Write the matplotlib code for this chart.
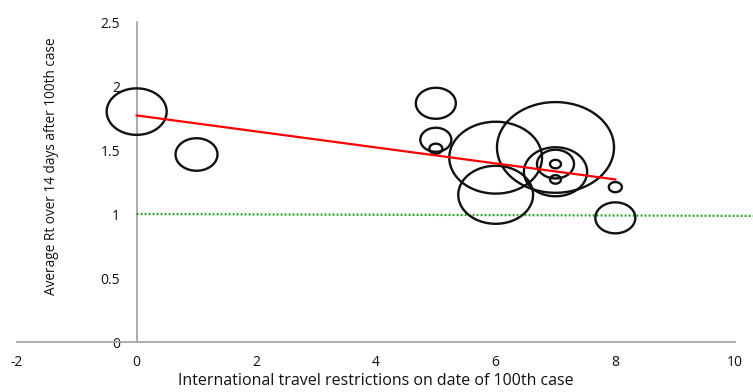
import numpy as np
import matplotlib.pyplot as plt
from matplotlib.path import Path

plt.rcParams['font.family'] = ['Open Sans', 'DejaVu Sans']
plt.rcParams['axes.unicode_minus'] = False

# travel restriction score, average Rt, bubble size
restrictions = [0, 1, 5, 5, 5, 6, 6, 7, 7, 7, 7, 7, 8, 8]
avg_rt = [1.80, 1.465, 1.865, 1.58, 1.51, 1.44, 1.15, 1.52, 1.33, 1.39, 1.39, 1.27, 1.21, 0.97]
bubble = [36, 17.6, 16, 9.6, 1.7, 86, 56, 137, 40, 13.7, 1.2, 1.2, 1.7, 16]

trend_x = [0, 8]
trend_y = [1.77, 1.27]

ref_x = [0, 10.3]
ref_y = [1.0, 0.985]

xticks = [-2, 0, 2, 4, 6, 8, 10]
yticks = [0, 0.5, 1, 1.5, 2, 2.5]
ytick_labels = ['0', '0.5', '1', '1.5', '2', '2.5']

# bubbles look squashed, use an elliptical marker
t = np.linspace(0, 2 * np.pi, 100)
ellipse = Path(np.column_stack([np.cos(t), 0.775 * np.sin(t)]), closed=True)

fig = plt.figure(figsize=(7.53, 3.92), dpi=100)
ax = fig.add_axes([17 / 753, 50 / 392, 718 / 753, 320 / 392])

diam_pt = np.sqrt(np.array(bubble)) * 10 * 0.72
ax.scatter(restrictions, avg_rt, s=diam_pt ** 2, marker=ellipse,
           facecolors='none', edgecolors='#111111', linewidths=1.7, zorder=3)

ax.plot(trend_x, trend_y, color='#ff0000', lw=1.6, zorder=4)
ax.plot(ref_x, ref_y, color='#1f9a1f', lw=1.6, ls=(0, (0.8, 1.0)), zorder=2,
        clip_on=False)

ax.set_xlim(-2, 10)
ax.set_ylim(0, 2.5)
ax.set_xticks(xticks)
ax.set_yticks(yticks)
ax.set_yticklabels(ytick_labels)

for s in ['top', 'right']:
    ax.spines[s].set_visible(False)
ax.spines['left'].set_position(('data', 0))
ax.spines['left'].set_color('#a6a6a6')
ax.spines['bottom'].set_color('#a6a6a6')
ax.spines['left'].set_linewidth(1.3)
ax.spines['bottom'].set_linewidth(1.3)
ax.spines['left'].set_zorder(1)

ax.tick_params(axis='y', length=0, pad=12, labelsize=10, labelcolor='#111111')
ax.tick_params(axis='x', length=0, pad=9, labelsize=10, labelcolor='#111111')

ax.set_xlabel('International travel restrictions on date of 100th case',
              fontsize=11.5, color='#111111')
ax.xaxis.set_label_coords(0.5, -0.098)
ax.set_ylabel('Average Rt over 14 days after 100th case',
              fontsize=9.8, color='#111111')
ax.yaxis.set_label_coords(0.059, 0.55)

fig.savefig('out.png', dpi=100)
